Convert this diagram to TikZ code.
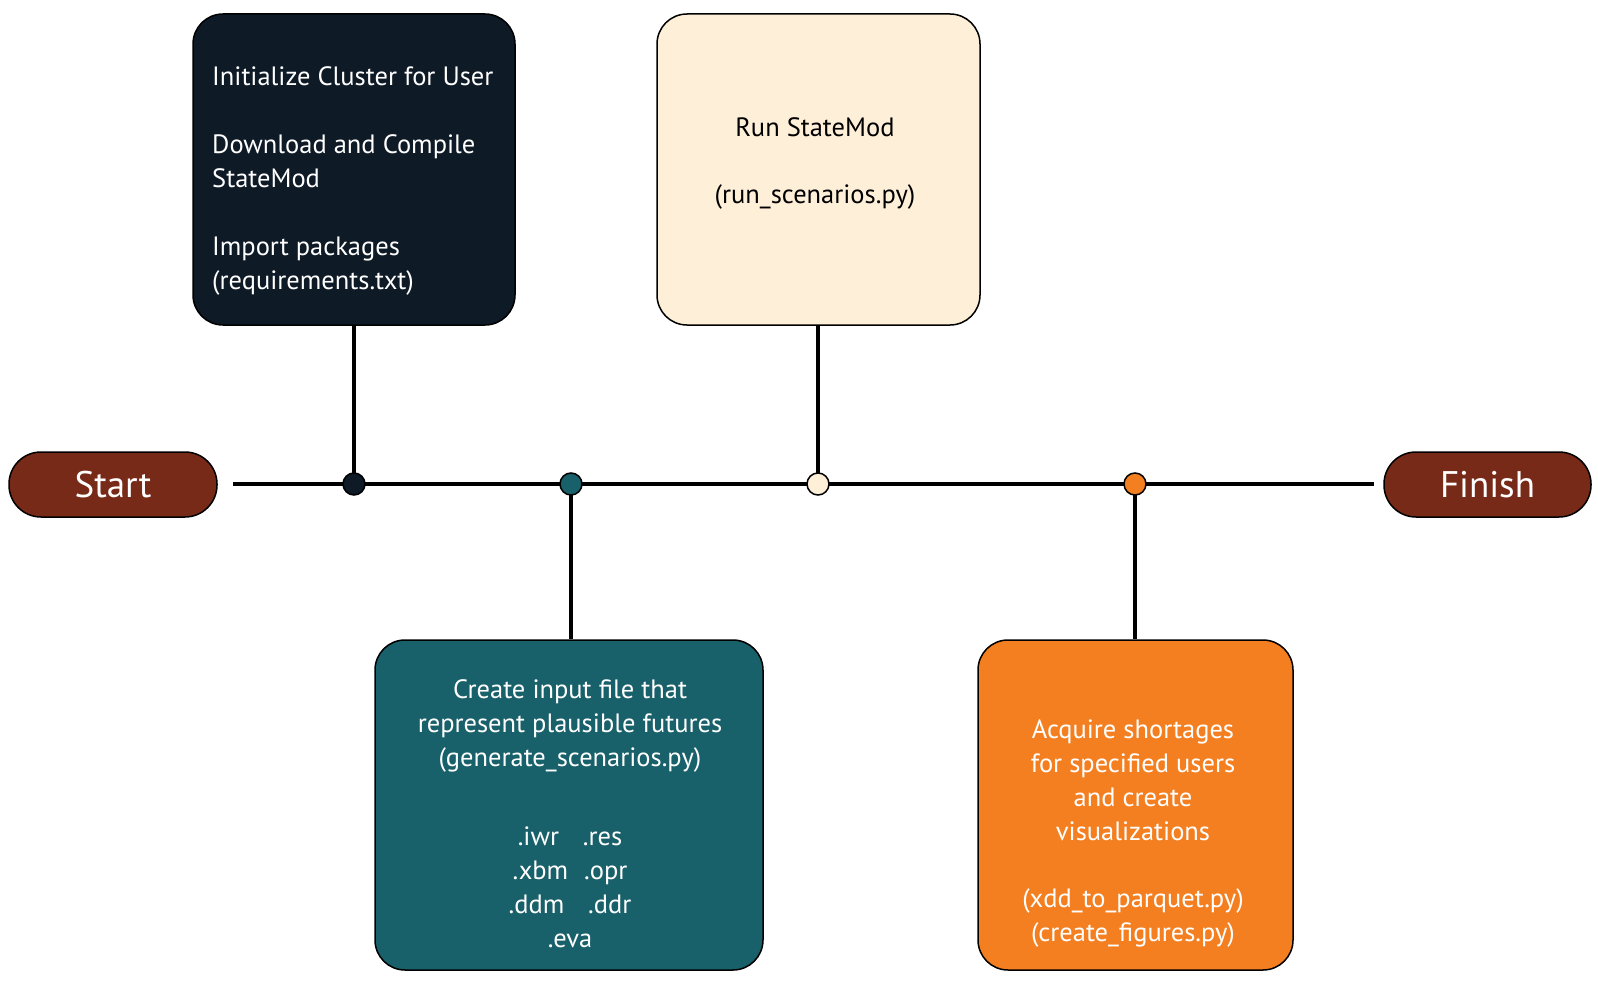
\documentclass[tikz,border=0pt]{standalone}
\usepackage{fontspec}
\setmainfont{PT Sans}
\definecolor{navy}{RGB}{14,26,38}
\definecolor{tealc}{RGB}{24,96,106}
\definecolor{orangec}{RGB}{244,127,32}
\definecolor{creamc}{RGB}{254,239,216}
\definecolor{brownc}{RGB}{120,42,24}
\begin{document}
\begin{tikzpicture}[x=1pt,y=-1pt,
  box/.style={draw=black, line width=1.5pt, rounded corners=30pt, inner sep=0pt},
  pill/.style={draw=black, line width=1.5pt, fill=brownc, rounded corners=32pt, inner sep=0pt,
    minimum height=65pt, text=white, font=\fontsize{37}{40}\selectfont},
  conn/.style={line width=3.3pt},
  dot/.style={circle, draw=black, line width=1.5pt, minimum size=22pt, inner sep=0pt},
  txt/.style={font=\fontsize{26.5}{34}\selectfont, inner sep=0pt}
]
\useasboundingbox (0,0) rectangle (1598,990);

% boxes
\node[box, fill=navy, minimum width=322pt, minimum height=311pt] (init) at (354,169.5) {};
\node[box, fill=creamc, minimum width=323pt, minimum height=311pt] (run) at (818.5,169.5) {};
\node[box, fill=tealc, minimum width=388pt, minimum height=330pt] (gen) at (569,805) {};
\node[box, fill=orangec, minimum width=315pt, minimum height=330pt] (acq) at (1135.5,805) {};

% start / finish
\node[pill, minimum width=208pt] (start) at (113,484.5) {Start};
\node[pill, minimum width=207pt] (finish) at (1487.5,484.5) {Finish};

% dot positions
\coordinate (c1) at (354,484);
\coordinate (c2) at (571,484);
\coordinate (c3) at (818,484);
\coordinate (c4) at (1135,484);

% timeline and connectors
\draw[conn] ([xshift=15pt]start.east |- c1) -- ([xshift=-9pt]finish.west |- c1);
\draw[conn] (init.south) -- (c1);
\draw[conn] (c2) -- (c2 |- gen.north);
\draw[conn] (c3 |- run.south) -- (c3);
\draw[conn] (c4) -- (c4 |- acq.north);

% dots
\node[dot, fill=navy] (d1) at (c1) {};
\node[dot, fill=tealc] (d2) at (c2) {};
\node[dot, fill=creamc] (d3) at (c3) {};
\node[dot, fill=orangec] (d4) at (c4) {};

% texts
\node[txt, text=white, align=left, anchor=west] (t1) at (212,181)
  {Initialize Cluster for User\\[34pt]Download and Compile\\StateMod\\[34pt]Import packages\\(requirements.txt)};
\node[txt, text=black, align=center] (t2) at (815,163.5)
  {Run StateMod\\[33pt](run\_scenarios.py)};
\node[txt, text=white, align=center] (t3) at (570,814)
  {Create input file that\\represent plausible futures\\(generate\_scenarios.py)\\[45pt]
   .iwr\hspace{0.9em}.res\\.xbm\hspace{0.6em}.opr\\.ddm\hspace{0.9em}.ddr\\.eva};
\node[txt, text=white, align=center] (t4) at (1133,833)
  {Acquire shortages\\for specified users\\and create\\visualizations\\[33pt](xdd\_to\_parquet.py)\\(create\_figures.py)};
\end{tikzpicture}
\end{document}
